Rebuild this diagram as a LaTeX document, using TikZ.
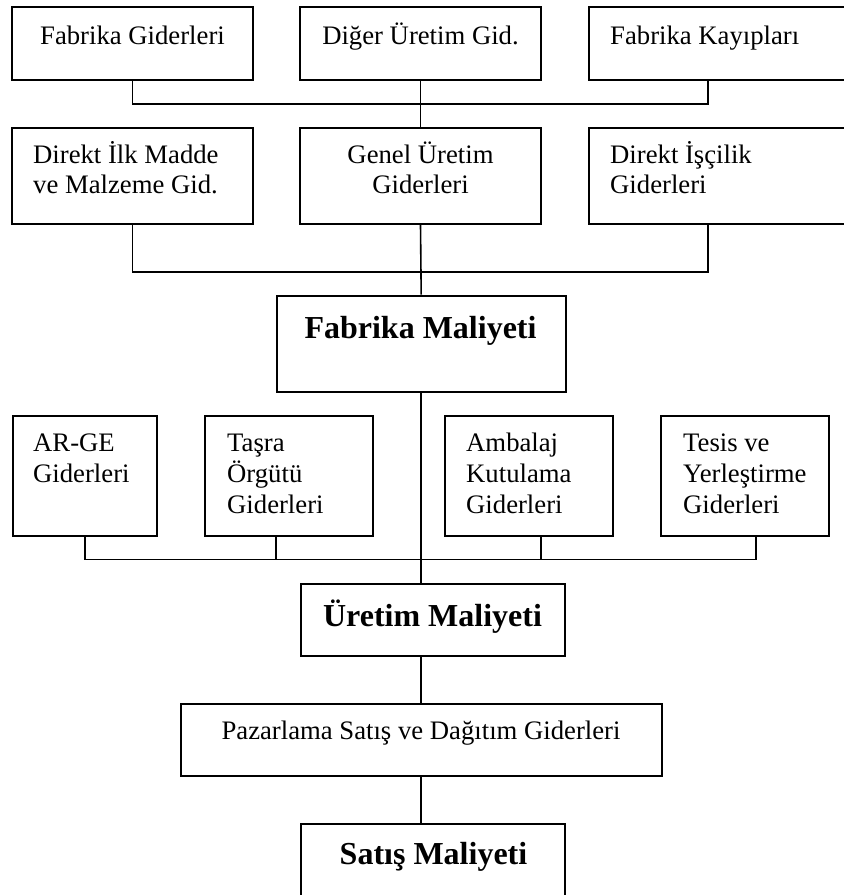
\documentclass[tikz,border=0pt]{standalone}
\usepackage{fontspec}
\setmainfont{Liberation Serif}
\usetikzlibrary{fit}

\tikzset{
  cbox/.style={draw, line width=2pt, inner sep=0pt},
  conn/.style={line width=1.6pt},
  lbl/.style={inner sep=0pt, font=\fontsize{26.7}{30.5}\selectfont},
  lblone/.style={lbl, anchor=base},
  lblL/.style={lbl, anchor=base west},
  lblthree/.style={inner sep=0pt, font=\fontsize{26.7}{31}\selectfont, anchor=base west},
  title/.style={inner sep=0pt, font=\fontsize{32}{38}\selectfont\bfseries, anchor=base},
}

% box from its top-left to its bottom-right corner
\newcommand\costbox[5]{\node[cbox, fit={(#2,#3) (#4,#5)}] (#1) {};}
% stacked lines, baseline on the first line
\newcommand\leftlines[1]{\vtop{\halign{##\hfil\cr#1\crcr}}}
\newcommand\midlines[1]{\vtop{\halign{\hfil##\hfil\cr#1\crcr}}}

\begin{document}
\begin{tikzpicture}[x=1pt, y=-1pt]
  \useasboundingbox (0,0) rectangle (844,895);
  \fill[white] (0,0) rectangle (844,895);
  \clip (0,0) rectangle (844,895);

  % first row
  \costbox{ra1}{12}{7.3}{253}{80}
  \costbox{rb1}{300}{7.3}{541}{80}
  \costbox{rc1}{589}{7.3}{860}{80}
  \node[lblone] (ta1) at (132.5,44.3) {Fabrika Giderleri};
  \node[lblone] (tb1) at (420.5,44.3) {Diğer Üretim Gid.};
  \node[lblL] (tc1) at (610,44.3) {Fabrika Kayıpları};

  % second row
  \costbox{ra2}{12}{127.7}{253}{223.7}
  \costbox{rb2}{300}{127.7}{541}{223.7}
  \costbox{rc2}{589}{127.7}{860}{223.7}
  \node[lblL] (ta2) at (33,163.3) {\leftlines{Direkt İlk Madde\cr ve Malzeme Gid.}};
  \node[lblone] (tb2) at (420.5,163.3) {\midlines{Genel Üretim\cr Giderleri}};
  \node[lblL] (tc2) at (610,163.3) {\leftlines{Direkt İşçilik\cr Giderleri}};

  % factory cost
  \costbox{fm}{276.7}{295.7}{565.7}{391.7}
  \node[title] (tfm) at (420.5,338.3) {Fabrika Maliyeti};

  % third row
  \costbox{ra3}{12.7}{415.7}{157}{536}
  \costbox{rb3}{205}{415.7}{373}{536}
  \costbox{rc3}{445}{415.7}{613}{536}
  \costbox{rd3}{661}{415.7}{829}{536}
  \node[lblthree] (ta3) at (33,451.7) {\leftlines{AR-GE\cr Giderleri}};
  \node[lblthree] (tb3) at (227,451.7) {\leftlines{Taşra\cr Örgütü\cr Giderleri}};
  \node[lblthree] (tc3) at (466,451.7) {\leftlines{Ambalaj\cr Kutulama\cr Giderleri}};
  \node[lblthree] (td3) at (683,451.7) {\leftlines{Tesis ve\cr Yerleştirme\cr Giderleri}};

  % production cost
  \costbox{um}{300.5}{583.5}{565}{656}
  \node[title] (tum) at (432.5,626) {Üretim Maliyeti};

  % marketing
  \costbox{pz}{180.5}{704}{661.5}{776}
  \node[lblone] (tpz) at (421,739) {Pazarlama Satış ve Dağıtım Giderleri};

  % sales cost
  \costbox{sm}{301}{824}{565}{910}
  \node[title] (tsm) at (433.5,864.5) {Satış Maliyeti};

  % junctions on the spine
  \coordinate (j1) at (421,104);
  \coordinate (j2) at (421,272);
  \coordinate (j3) at (421,559.3);

  % first-row bus
  \draw[conn] (ra1.south) |- (j1) -| ([xshift=120pt]rc1.south west);
  \draw[conn] (rb1.south) -- (rb2.north);

  % second-row bus
  \draw[conn] (ra2.south) |- (j2) -| ([xshift=120pt]rc2.south west);
  \draw[conn] (rb2.south) -- (fm.north);

  % third-row bus
  \draw[conn] (ra3.south) |- (j3) -| ([xshift=96pt]rd3.south west);
  \draw[conn] ([xshift=72pt]rb3.south west) -- ([xshift=72pt]rb3.south west |- j3);
  \draw[conn] ([xshift=96.7pt]rc3.south west) -- ([xshift=96.7pt]rc3.south west |- j3);

  % spine below the factory cost
  \draw[conn] (fm.south) -- (fm.south |- um.north);
  \draw[conn] (fm.south |- um.south) -- (fm.south |- pz.north);
  \draw[conn] (fm.south |- pz.south) -- (fm.south |- sm.north);
\end{tikzpicture}
\end{document}
